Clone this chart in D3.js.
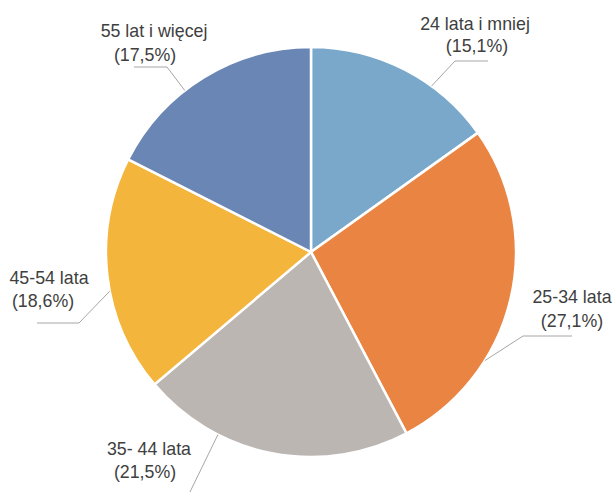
<!DOCTYPE html>
<html>
<head>
<meta charset="utf-8">
<script src="https://cdn.jsdelivr.net/npm/d3@7"></script>
<style>
  body { margin: 0; background: #fff; }
  text { font-family: "Liberation Sans", Arial, sans-serif; font-size: 17.8px; fill: #404040; }
</style>
</head>
<body>
<div class="pie_chart"></div>
<script>
// age groups and their share (%)
var categories = ["24 lata i mniej", "25-34 lata", "35- 44 lata", "45-54 lata", "55 lat i więcej"];
var values = [15.1, 27.1, 21.5, 18.6, 17.5];
var valueLabels = ["(15,1%)", "(27,1%)", "(21,5%)", "(18,6%)", "(17,5%)"];
var colors = ["#79a8cb", "#ea8442", "#bcb6b3", "#f3b53b", "#6a86b4"];

// label placement, relative to pie centre (leader start angle in degrees)
var labelLayout = [
    { a: 36, elbow: [144, -191], end: [177, -191], l1: [164, -222], l2: [166, -200] },
    { a: 122, elbow: [212, 84], end: [261, 84], l1: [261, 51], l2: [261, 75] },
    { a: -153, elbow: [-123, 244], end: [-123, 244], l1: [-162, 203], l2: [-166, 226] },
    { a: -101, elbow: [-232, 71], end: [-274, 71], l1: [-262, 32], l2: [-268, 55] },
    { a: -38, elbow: [-144, -185], end: [-177, -185], l1: [-157, -215], l2: [-166, -191] }
];

var width = 613, height = 492,
    cx = 311, cy = 252, radius = 205;

var svg = d3.select(".pie_chart").append("svg")
    .attr("width", width)
    .attr("height", height)
    .append("g")
    .attr("transform", "translate(" + cx + "," + cy + ")");

var data = values.map(function (v, i) {
    return { name: categories[i], value: v, label: valueLabels[i], fill: colors[i], layout: labelLayout[i] };
});

var pie = d3.pie()
    .sort(null)
    .value(function (d) { return d.value; });

var arc = d3.arc()
    .innerRadius(0)
    .outerRadius(radius);

var arcs = pie(data);

svg.selectAll("path.slice")
    .data(arcs)
    .enter().append("path")
    .attr("class", "slice")
    .attr("d", arc)
    .style("fill", function (d) { return d.data.fill; })
    .style("stroke", "#fff")
    .style("stroke-width", 2.5);

// leader lines
svg.selectAll("polyline.leader")
    .data(arcs)
    .enter().append("polyline")
    .attr("class", "leader")
    .attr("points", function (d) {
        var L = d.data.layout;
        var s = d3.pointRadial(L.a * Math.PI / 180, radius);
        return [s, L.elbow, L.end].map(function (p) { return p.join(","); }).join(" ");
    })
    .style("fill", "none")
    .style("stroke", "#a6a6a6")
    .style("stroke-width", 1);

// labels
var lab = svg.selectAll("g.label")
    .data(arcs)
    .enter().append("g")
    .attr("class", "label");

lab.append("text")
    .attr("x", function (d) { return d.data.layout.l1[0]; })
    .attr("y", function (d) { return d.data.layout.l1[1]; })
    .attr("text-anchor", "middle")
    .text(function (d) { return d.data.name; });

lab.append("text")
    .attr("x", function (d) { return d.data.layout.l2[0]; })
    .attr("y", function (d) { return d.data.layout.l2[1]; })
    .attr("text-anchor", "middle")
    .text(function (d) { return d.data.label; });
</script>
</body>
</html>
